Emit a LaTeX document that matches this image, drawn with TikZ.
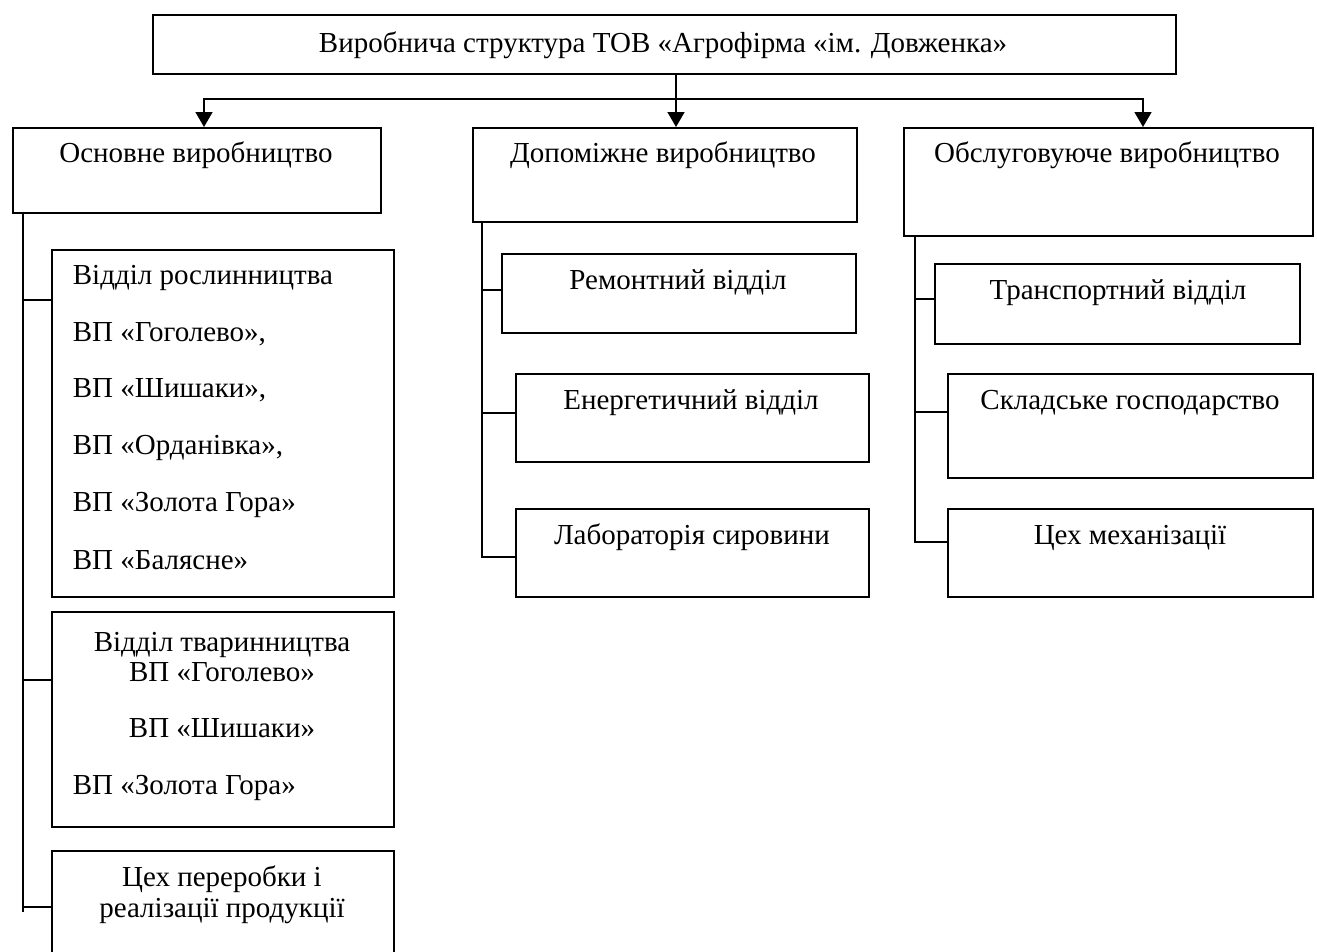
\documentclass[tikz,border=0pt]{standalone}
\usepackage{fontspec}
\setmainfont{Liberation Serif}
\usetikzlibrary{arrows.meta, positioning}

\begin{document}
\begin{tikzpicture}[x=0.02cm, y=-0.02cm, line width=1pt,
    font=\fontsize{16.5}{18}\selectfont,
    blk/.style n args={2}{draw, inner sep=0pt, anchor=north west,
      minimum width=#1*0.02cm, minimum height=#2*0.02cm},
    lbl/.style={inner sep=0pt, anchor=base},
    lbll/.style={inner sep=0pt, anchor=base west},
    arr/.style={-{Triangle[width=9.6pt, length=8.5pt]}}]
  \useasboundingbox (0,0) rectangle (1317,951);

  \node[blk={1023}{59}] (top) at (152,14) {};
  \node[blk={368}{85}] (osn) at (12,127) {};
  \node[blk={384}{94}] (dop) at (472,127) {};
  \node[blk={409}{108}] (obs) at (903,127) {};

  \node[blk={342}{347}] (rosl) at (51,249) {};
  \node[blk={342}{215}] (tvar) at (51,611) {};
  \node[blk={342}{150}] (pere) at (51,850) {};

  \node[blk={354}{79}] (rem) at (501,253) {};
  \node[blk={353}{88}] (energ) at (515,373) {};
  \node[blk={353}{88}] (lab) at (515,508) {};

  \node[blk={365}{80}] (trans) at (934,263) {};
  \node[blk={365}{104}] (sklad) at (947,373) {};
  \node[blk={365}{88}] (mekh) at (947,508) {};

  \node[lbl] (ttop) at (663,52) {Виробнича структура ТОВ «Агрофірма «ім. Довженка»};
  \node[lbl] (tosn) at (196,162) {Основне виробництво};
  \node[lbl] (tdop) at (663,162) {Допоміжне виробництво};
  \node[lbl] (tobs) at (1107,162) {Обслуговуюче виробництво};

  \node[lbll] (r1) at (72,284) {Відділ рослинництва};
  \node[lbll] (r2) at (72,341) {ВП «Гоголево»,};
  \node[lbll] (r3) at (72,397) {ВП «Шишаки»,};
  \node[lbll] (r4) at (72,454) {ВП «Орданівка»,};
  \node[lbll] (r5) at (72,511) {ВП «Золота Гора»};
  \node[lbll] (r6) at (72,569) {ВП «Балясне»};

  \node[lbl] (t1) at (222,651) {Відділ тваринництва};
  \node[lbl] (t2) at (222,681) {ВП «Гоголево»};
  \node[lbl] (t3) at (222,737) {ВП «Шишаки»};
  \node[lbll] (t4) at (72,794) {ВП «Золота Гора»};

  \node[lbl] (p1) at (222,886) {Цех переробки і};
  \node[lbl] (p2) at (222,917) {реалізації продукції};

  \node[lbl] (trem) at (678,289) {Ремонтний відділ};
  \node[lbl] (tenerg) at (691,409) {Енергетичний відділ};
  \node[lbl] (tlab) at (692,544) {Лабораторія сировини};

  \node[lbl] (ttrans) at (1118,299) {Транспортний відділ};
  \node[lbl] (tsklad) at (1130,409) {Складське господарство};
  \node[lbl] (tmekh) at (1130,544) {Цех механізації};

  \coordinate (hub) at (676,99);
  \draw (top.south -| hub) -- (hub);
  \draw[arr] (hub) -- (hub |- dop.north);
  \draw[arr] (hub) -| (osn.north -| 204,0);
  \draw[arr] (hub) -| (obs.north -| 1143,0);

  \draw (osn.south -| 23,0) -- (23,912);
  \draw (23,300) -- (rosl.west |- 0,300);
  \draw (23,680) -- (tvar.west |- 0,680);
  \draw (23,907) -- (pere.west |- 0,907);

  \draw (dop.south -| 482,0) -- (482,558);
  \draw (482,290) -- (rem.west |- 0,290);
  \draw (482,413) -- (energ.west |- 0,413);
  \draw (482,557) -- (lab.west |- 0,557);

  \draw (obs.south -| 915,0) -- (915,543);
  \draw (915,299) -- (trans.west |- 0,299);
  \draw (915,412) -- (sklad.west |- 0,412);
  \draw (915,542) -- (mekh.west |- 0,542);
\end{tikzpicture}
\end{document}
